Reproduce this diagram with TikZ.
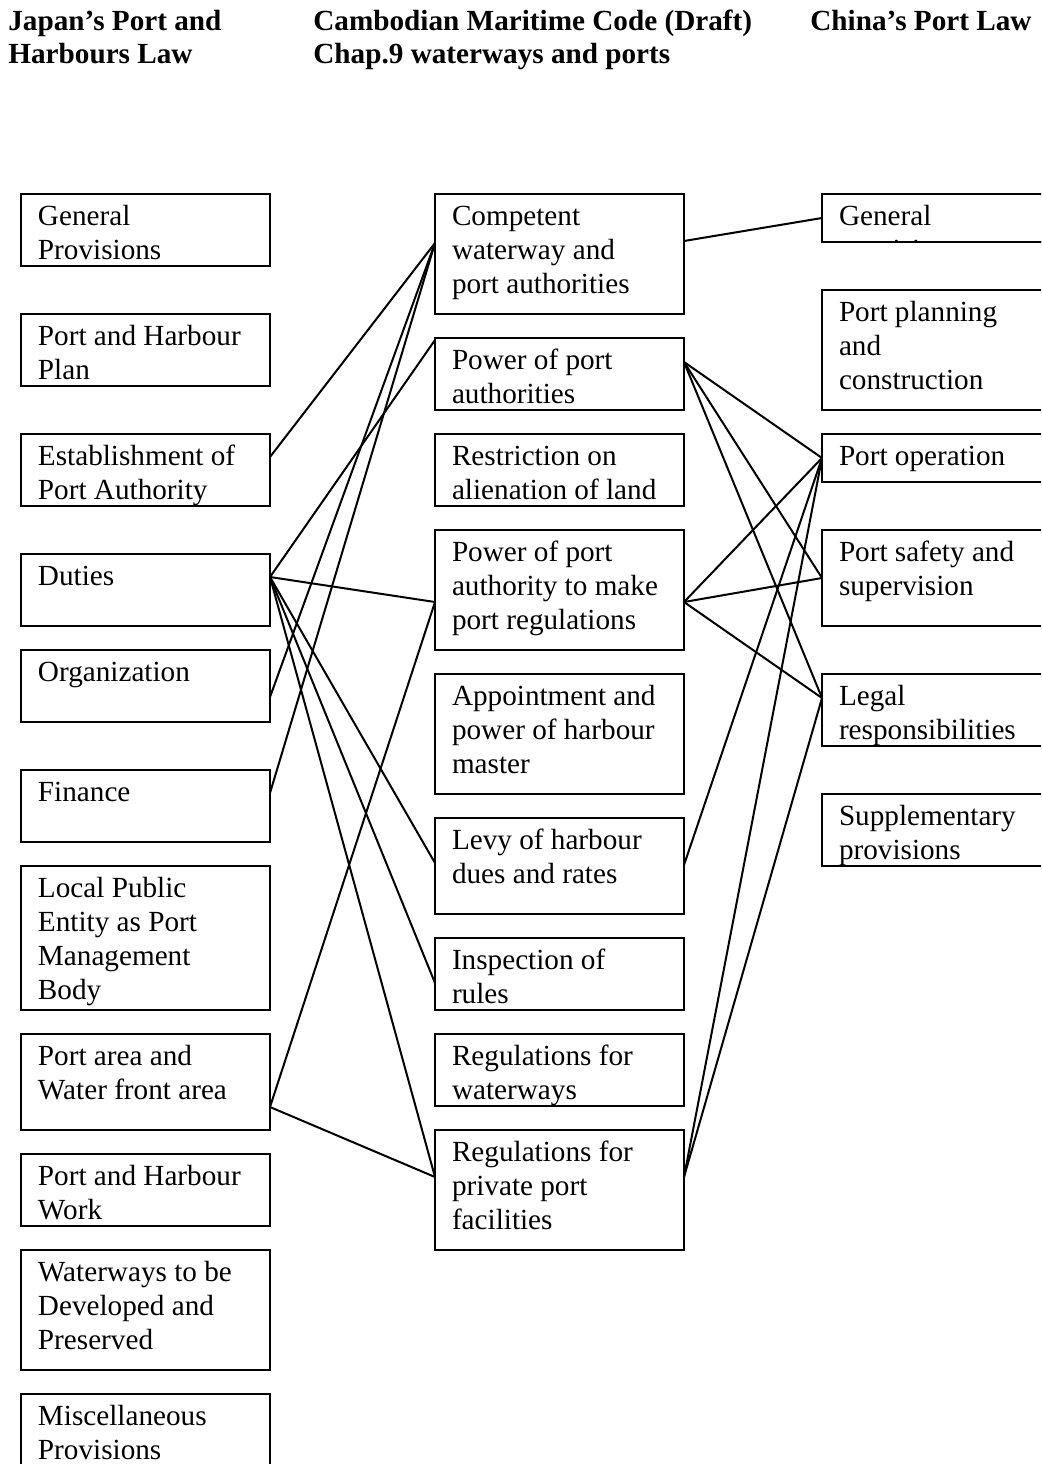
\documentclass[tikz,border=0pt]{standalone}
\usepackage{fontspec}
\setmainfont{Liberation Serif}

% text of a box, set from its top edge down
\newcommand{\boxtxt}[2]{\parbox[t][#1][t]{107.5pt}{\raggedright\rule{0pt}{15.5pt}#2}}

\begin{document}
\begin{tikzpicture}[x=0.5pt, y=-0.5pt,
    lawbox/.style={draw, line width=1pt, anchor=north west, inner xsep=8.5pt, inner ysep=0pt,
        outer sep=0pt, font=\fontsize{14.6pt}{17pt}\selectfont},
    head/.style={anchor=north west, inner sep=0pt, font=\fontsize{14.6pt}{16.5pt}\bfseries\selectfont},
    link/.style={line width=1pt}]
        \useasboundingbox (0,0) rectangle (1041,1464);
        \clip (0,0) rectangle (1041,1464);

        % ===== headings =====
        \node[head] (hjp) at (8,0) {\parbox[t]{150pt}{\rule{0pt}{15pt}Japan's Port and\\Harbours Law}};
        \node[head] (hcb) at (313,0) {\parbox[t]{235pt}{\rule{0pt}{15pt}Cambodian Maritime Code (Draft)\\Chap.9 waterways and ports}};
        \node[head] (hcn) at (810,0) {\parbox[t]{120pt}{\rule{0pt}{15pt}China's Port Law}};

        % ===== Japan =====
        \def\xJ{21}
        \node[lawbox] (jgen)   at (\xJ,194)  {\boxtxt{36pt}{General\\Provisions}};
        \node[lawbox] (jplan)  at (\xJ,314)  {\boxtxt{36pt}{Port and Harbour\\Plan}};
        \node[lawbox] (jest)   at (\xJ,434)  {\boxtxt{36pt}{Establishment of\\Port Authority}};
        \node[lawbox] (jduty)  at (\xJ,554)  {\boxtxt{36pt}{Duties}};
        \node[lawbox] (jorg)   at (\xJ,650)  {\boxtxt{36pt}{Organization}};
        \node[lawbox] (jfin)   at (\xJ,770)  {\boxtxt{36pt}{Finance}};
        \node[lawbox] (jlocal) at (\xJ,866)  {\boxtxt{72pt}{Local Public\\Entity as Port\\Management\\Body}};
        \node[lawbox] (jarea)  at (\xJ,1034) {\boxtxt{48pt}{Port area and\\Water front area}};
        \node[lawbox] (jwork)  at (\xJ,1154) {\boxtxt{36pt}{Port and Harbour\\Work}};
        \node[lawbox] (jwater) at (\xJ,1250) {\boxtxt{60pt}{Waterways to be\\Developed and\\Preserved}};
        \node[lawbox] (jmisc)  at (\xJ,1394) {\boxtxt{36pt}{Miscellaneous\\Provisions}};

        % ===== Cambodia =====
        \def\xC{435}
        \node[lawbox] (cbcomp)   at (\xC,194)  {\boxtxt{60pt}{Competent\\waterway and\\port authorities}};
        \node[lawbox] (cbpow)    at (\xC,338)  {\boxtxt{36pt}{Power of port\\authorities}};
        \node[lawbox] (cbland)   at (\xC,434)  {\boxtxt{36pt}{Restriction on\\alienation of land}};
        \node[lawbox] (cbreg)    at (\xC,530)  {\boxtxt{60pt}{Power of port\\authority to make\\port regulations}};
        \node[lawbox] (cbmaster) at (\xC,674)  {\boxtxt{60pt}{Appointment and\\power of harbour\\master}};
        \node[lawbox] (cblevy)   at (\xC,818)  {\boxtxt{48pt}{Levy of harbour\\dues and rates}};
        \node[lawbox] (cbinsp)   at (\xC,938)  {\boxtxt{36pt}{Inspection of\\rules}};
        \node[lawbox] (cbway)    at (\xC,1034) {\boxtxt{36pt}{Regulations for\\waterways}};
        \node[lawbox] (cbpriv)   at (\xC,1130) {\boxtxt{60pt}{Regulations for\\private port\\facilities}};

        % ===== China =====
        \def\xN{822}
        \begin{scope}
            \clip (\xN,194) rectangle (1041,243);
            \node[lawbox] (cngen) at (\xN,194) {\boxtxt{24pt}{General\\provisions}};
        \end{scope}
        \draw[link] (cngen.north west) rectangle (cngen.south east);
        \node[lawbox] (cnplan)  at (\xN,290) {\boxtxt{60pt}{Port planning\\and\\construction}};
        \node[lawbox] (cnop)    at (\xN,434) {\boxtxt{24pt}{Port operation}};
        \node[lawbox] (cnsafe)  at (\xN,530) {\boxtxt{48pt}{Port safety and\\supervision}};
        \node[lawbox] (cnlegal) at (\xN,674) {\boxtxt{36pt}{Legal\\responsibilities}};
        \node[lawbox] (cnsupp)  at (\xN,794) {\boxtxt{36pt}{Supplementary\\provisions}};

        % Japan -> Cambodia
        \draw[link] ([yshift=-11.5pt]jest.north east) -- ([yshift=-24.5pt]cbcomp.north west);
        \draw[link] ([yshift=-23.5pt]jorg.north east) -- ([yshift=-24.5pt]cbcomp.north west);
        \draw[link] ([yshift=-11.5pt]jfin.north east) -- ([yshift=-24.5pt]cbcomp.north west);
        \foreach \t/\s in {cbpow/-1pt, cbreg/-36pt, cblevy/-22.5pt, cbinsp/-22.5pt, cbpriv/-23.5pt}
            \draw[link] ([yshift=-11.5pt]jduty.north east) -- ([yshift=\s]\t.north west);
        \draw[link] ([yshift=-36.5pt]jarea.north east) -- ([yshift=-36pt]cbreg.north west);
        \draw[link] ([yshift=-36.5pt]jarea.north east) -- ([yshift=-23.5pt]cbpriv.north west);

        % Cambodia -> China
        \draw[link] ([yshift=-23.5pt]cbcomp.north east) -- ([yshift=-12pt]cngen.north west);
        \foreach \t/\s in {cnop/-12pt, cnsafe/-24pt, cnlegal/-12pt} {
            \draw[link] ([yshift=-12pt]cbpow.north east) -- ([yshift=\s]\t.north west);
            \draw[link] ([yshift=-36pt]cbreg.north east) -- ([yshift=\s]\t.north west);
        }
        \draw[link] ([yshift=-23.5pt]cblevy.north east) -- ([yshift=-12pt]cnop.north west);
        \draw[link] ([yshift=-23.5pt]cbpriv.north east) -- ([yshift=-12pt]cnop.north west);
        \draw[link] ([yshift=-23.5pt]cbpriv.north east) -- ([yshift=-12pt]cnlegal.north west);
    \end{tikzpicture}
\end{document}
